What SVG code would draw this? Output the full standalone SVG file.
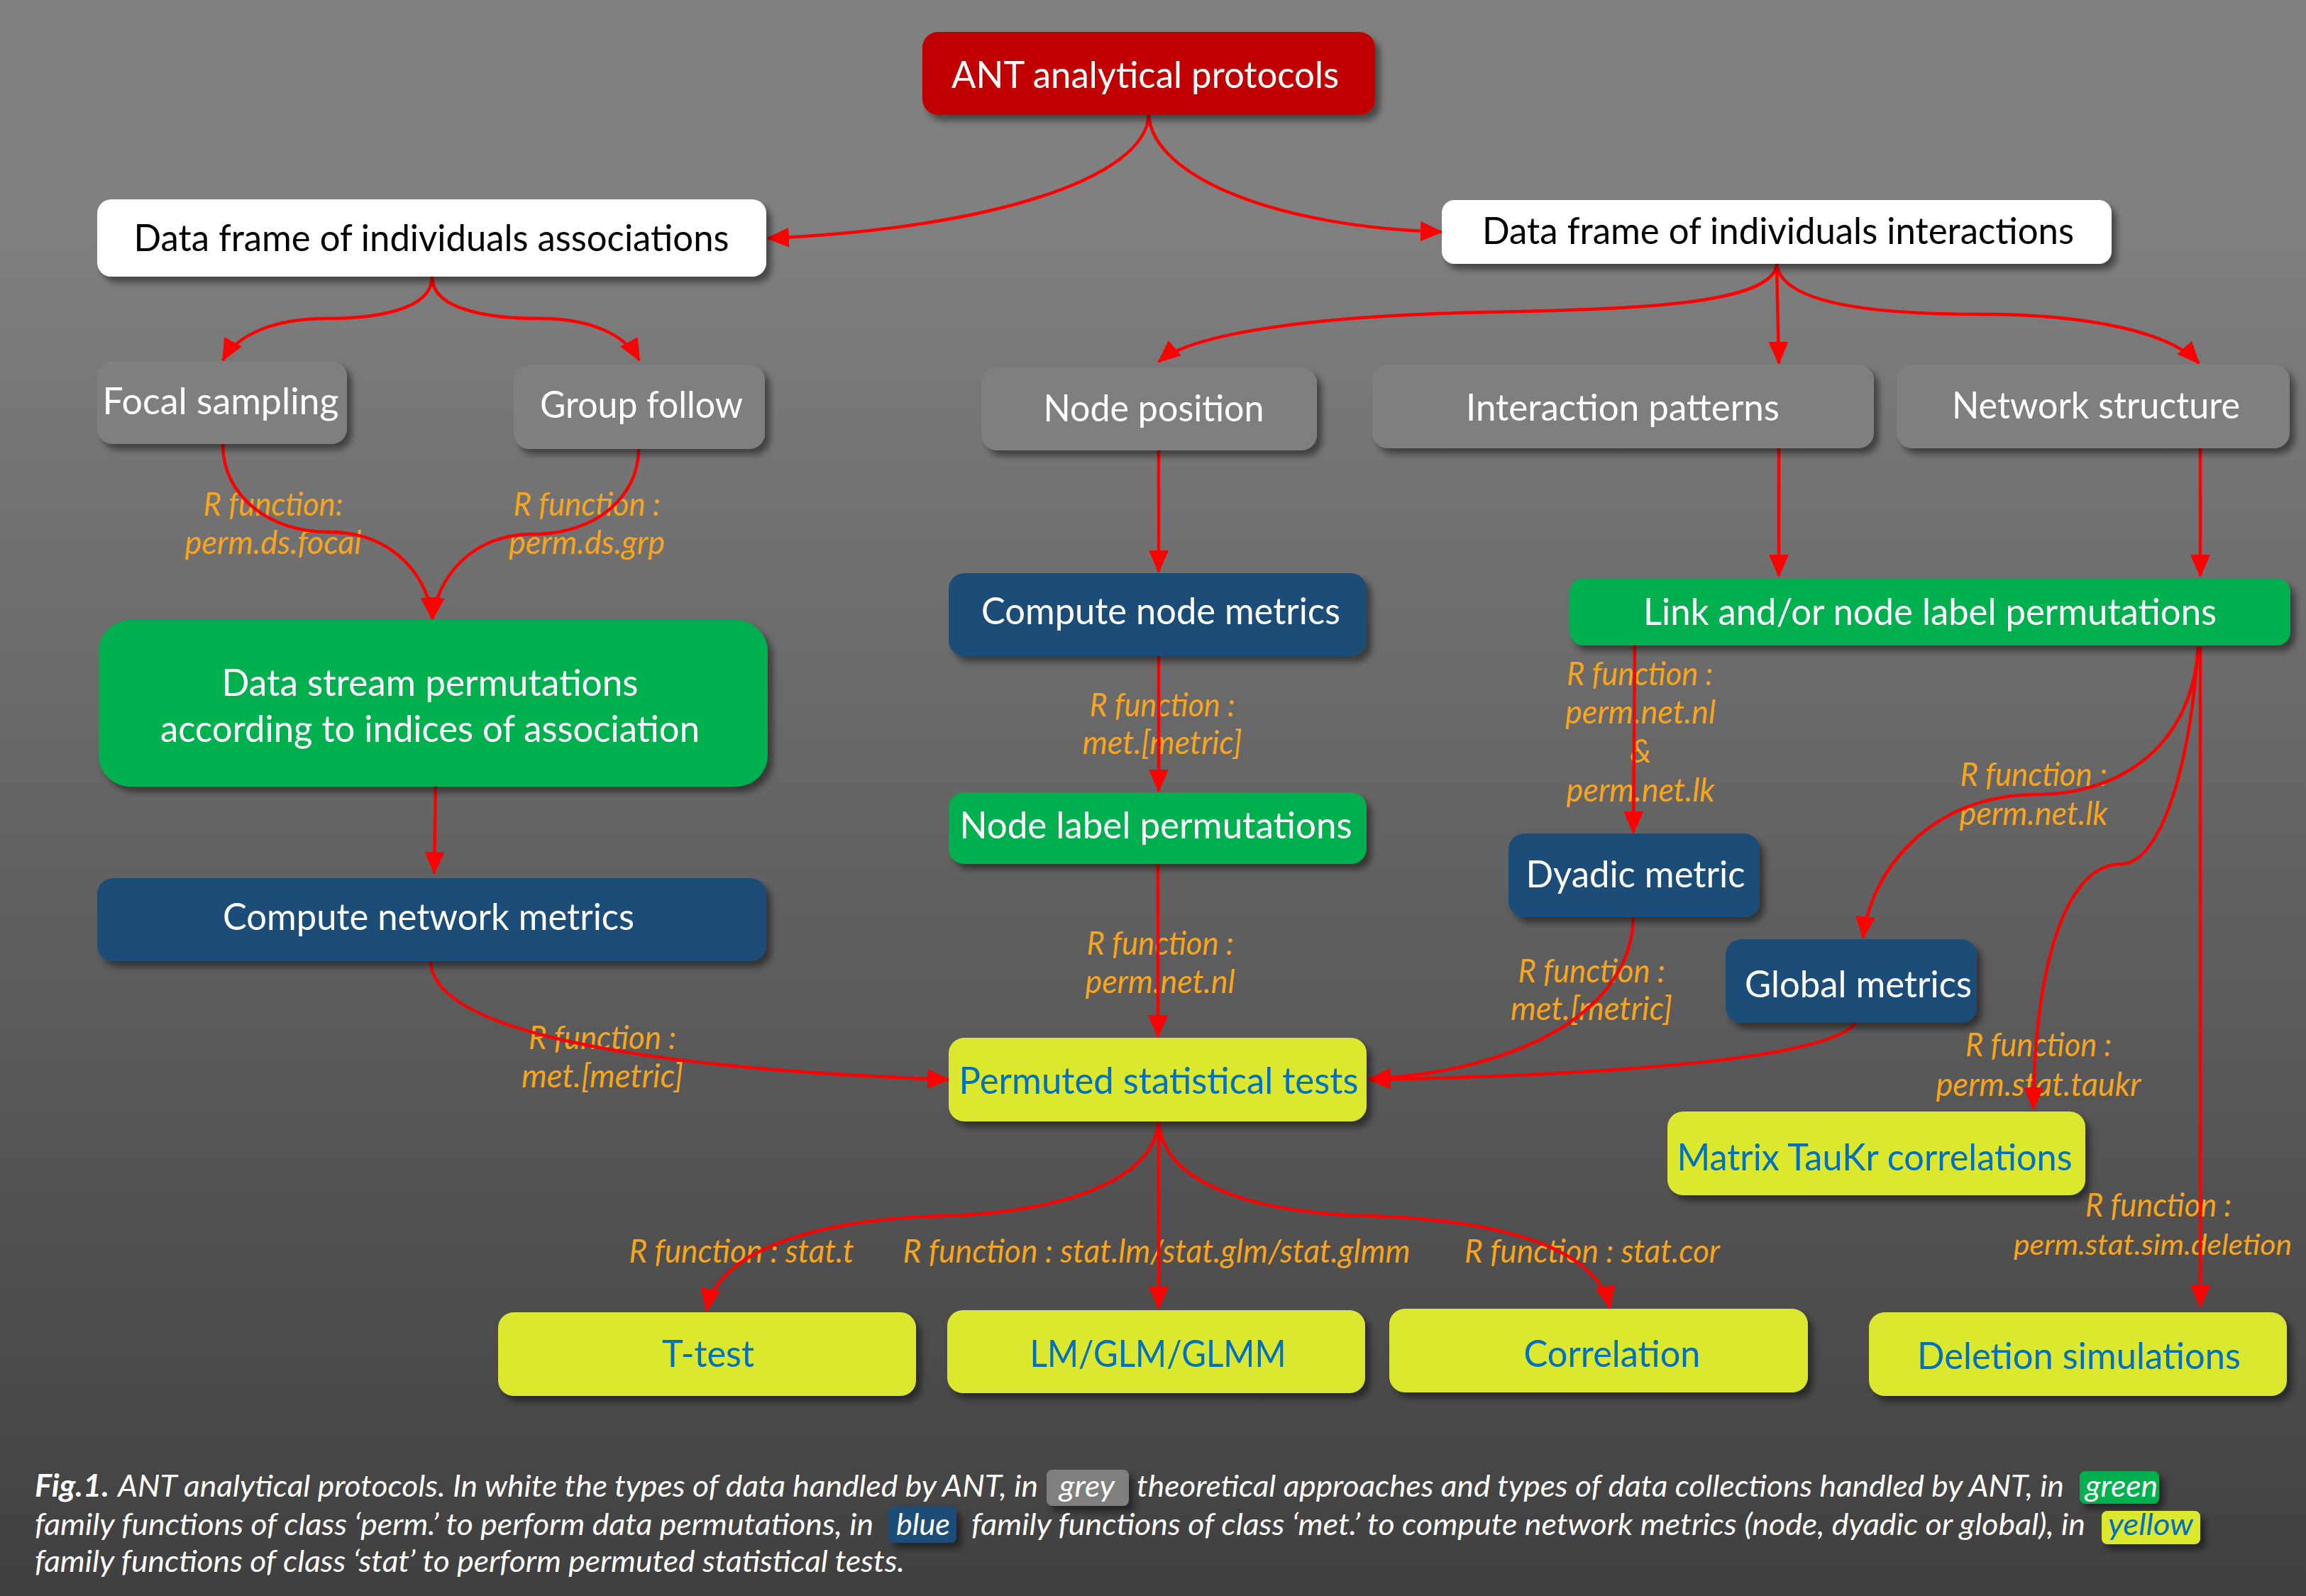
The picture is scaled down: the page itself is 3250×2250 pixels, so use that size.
<svg xmlns="http://www.w3.org/2000/svg" width="3250" height="2250" viewBox="0 0 3250 2250">
<defs>
<linearGradient id="bg" x1="0" y1="0" x2="0" y2="1">
<stop offset="0" stop-color="#808080"/>
<stop offset="0.13" stop-color="#808080"/>
<stop offset="1" stop-color="#404040"/>
</linearGradient>
<filter id="sh" x="-10%" y="-20%" width="130%" height="160%">
<feDropShadow dx="7" dy="8" stdDeviation="5" flood-color="#000" flood-opacity="0.45"/>
</filter>
<marker id="arr" markerUnits="userSpaceOnUse" markerWidth="32" markerHeight="28" refX="30" refY="14" orient="auto" viewBox="0 0 32 28">
<path d="M0,0 L32,14 L0,28 z" fill="#FF0000"/>
</marker>
<style>
text { font-family: Lato, "Open Sans", "Liberation Sans", sans-serif; }
.box { filter: url(#sh); }
.red { fill: #C00000; }
.white { fill: #FFFFFF; }
.grey { fill: #7F7F7F; }
.green { fill: #00B050; }
.blue { fill: #1F4E79; }
.yellow { fill: #DCE82F; }
.t { font-size: 53px; text-anchor: middle; fill: #FFFFFF; }
.tk { fill: #000000; }
.ty { fill: #0070C0; }
.lab { font-size: 46px; font-style: italic; fill: #F7A51E; text-anchor: middle; }
.labs { font-size: 41px; }
.cap { font-size: 43px; font-style: italic; fill: #FFFFFF; }
.conn { fill: none; stroke: #FF0000; stroke-width: 4.5; marker-end: url(#arr); }
</style>
</defs>
<rect x="0" y="0" width="3250" height="2250" fill="url(#bg)"/>

<g id="edge-labels">
<text class="lab" x="385" y="727" textLength="197" lengthAdjust="spacingAndGlyphs">R function:</text>
<text class="lab" x="385" y="781" textLength="249" lengthAdjust="spacingAndGlyphs">perm.ds.focal</text>
<text class="lab" x="827" y="727" textLength="207" lengthAdjust="spacingAndGlyphs">R function :</text>
<text class="lab" x="827" y="781" textLength="220" lengthAdjust="spacingAndGlyphs">perm.ds.grp</text>
<text class="lab" x="849" y="1479" textLength="208" lengthAdjust="spacingAndGlyphs">R function :</text>
<text class="lab" x="849" y="1533" textLength="228" lengthAdjust="spacingAndGlyphs">met.[metric]</text>
<text class="lab" x="1638" y="1010" textLength="205" lengthAdjust="spacingAndGlyphs">R function :</text>
<text class="lab" x="1638" y="1063" textLength="225" lengthAdjust="spacingAndGlyphs">met.[metric]</text>
<text class="lab" x="1635" y="1346" textLength="207" lengthAdjust="spacingAndGlyphs">R function :</text>
<text class="lab" x="1635" y="1400" textLength="211" lengthAdjust="spacingAndGlyphs">perm.net.nl</text>
<text class="lab" x="2311" y="966" textLength="206" lengthAdjust="spacingAndGlyphs">R function :</text>
<text class="lab" x="2312" y="1020" textLength="212" lengthAdjust="spacingAndGlyphs">perm.net.nl</text>
<text class="lab" x="2312" y="1075">&amp;</text>
<text class="lab" x="2312" y="1130" textLength="209" lengthAdjust="spacingAndGlyphs">perm.net.lk</text>
<text class="lab" x="2243" y="1385" textLength="207" lengthAdjust="spacingAndGlyphs">R function :</text>
<text class="lab" x="2243" y="1438" textLength="228" lengthAdjust="spacingAndGlyphs">met.[metric]</text>
<text class="lab" x="2866" y="1108" textLength="207" lengthAdjust="spacingAndGlyphs">R function :</text>
<text class="lab" x="2866" y="1163" textLength="209" lengthAdjust="spacingAndGlyphs">perm.net.lk</text>
<text class="lab" x="2873" y="1489" textLength="206" lengthAdjust="spacingAndGlyphs">R function :</text>
<text class="lab" x="2873" y="1545" textLength="289" lengthAdjust="spacingAndGlyphs">perm.stat.taukr</text>
<text class="lab" x="3042" y="1715" textLength="206" lengthAdjust="spacingAndGlyphs">R function :</text>
<text class="lab labs" x="3034" y="1769" textLength="392" lengthAdjust="spacingAndGlyphs">perm.stat.sim.deletion</text>
<text class="lab" x="1045" y="1780" textLength="317" lengthAdjust="spacingAndGlyphs">R function : stat.t</text>
<text class="lab" x="1630" y="1780" textLength="715" lengthAdjust="spacingAndGlyphs">R function : stat.lm/stat.glm/stat.glmm</text>
<text class="lab" x="2244" y="1780" textLength="360" lengthAdjust="spacingAndGlyphs">R function : stat.cor</text>
</g>

<g id="connectors">
<path class="conn" d="M1619 162 C1615 250 1400 322 1082 336"/>
<path class="conn" d="M1619 162 C1625 250 1800 320 2032 327"/>
<path class="conn" d="M609 390 C609 440 520 449 460 449 C390 449 335 470 314 508"/>
<path class="conn" d="M609 390 C609 440 700 449 760 449 C830 449 880 470 901 508"/>
<path class="conn" d="M314 626 C314 700 380 750 463 750 C560 750 605 820 609 872"/>
<path class="conn" d="M900 633 C900 700 840 753 752 753 C660 753 615 820 610 872"/>
<path class="conn" d="M614 1105 L612 1231"/>
<path class="conn" d="M607 1355 C610 1470 1000 1510 1337 1522"/>
<path class="conn" d="M2504 372 C2500 430 2300 436 2100 440 C1850 445 1680 470 1633 510"/>
<path class="conn" d="M2504 372 L2507 512"/>
<path class="conn" d="M2504 372 C2510 430 2650 443 2790 443 C2950 443 3060 470 3099 512"/>
<path class="conn" d="M1633 635 L1633 806"/>
<path class="conn" d="M2507 632 L2507 812"/>
<path class="conn" d="M3101 632 L3101 812"/>
<path class="conn" d="M1633 925 L1633 1115"/>
<path class="conn" d="M1632 1218 L1632 1461"/>
<path class="conn" d="M2304 910 L2302 1174"/>
<path class="conn" d="M2302 1293 C2300 1420 2150 1510 1930 1521"/>
<path class="conn" d="M2615 1442 C2580 1490 2300 1515 1930 1522"/>
<path class="conn" d="M3098 912 C3090 1050 2990 1120 2870 1120 C2720 1120 2635 1230 2626 1322"/>
<path class="conn" d="M3098 912 C3085 1100 3040 1218 2990 1218 C2900 1218 2866 1400 2866 1563"/>
<path class="conn" d="M3101 912 L3101 1842"/>
<path class="conn" d="M1633 1581 C1625 1680 1450 1712 1330 1714 C1130 1720 1010 1770 996 1847"/>
<path class="conn" d="M1633 1581 L1633 1844"/>
<path class="conn" d="M1633 1581 C1640 1680 1800 1712 1930 1714 C2120 1720 2250 1760 2269 1843"/>
</g>

<g id="node-ant"><rect class="box red" x="1300" y="45" width="638" height="117" rx="22"/><text class="t" x="1614" y="124" textLength="546" lengthAdjust="spacingAndGlyphs">ANT analytical protocols</text></g>
<g id="node-assoc"><rect class="box white" x="137" y="281" width="943" height="109" rx="20"/><text class="t tk" x="608" y="354" textLength="839" lengthAdjust="spacingAndGlyphs">Data frame of individuals associations</text></g>
<g id="node-interact"><rect class="box white" x="2032" y="282" width="944" height="90" rx="18"/><text class="t tk" x="2506" y="344" textLength="834" lengthAdjust="spacingAndGlyphs">Data frame of individuals interactions</text></g>
<g id="node-focal"><rect class="box grey" x="137" y="509" width="352" height="117" rx="22"/><text class="t" x="311" y="584" textLength="333" lengthAdjust="spacingAndGlyphs">Focal sampling</text></g>
<g id="node-group"><rect class="box grey" x="724" y="514" width="354" height="119" rx="22"/><text class="t" x="904" y="589" textLength="286" lengthAdjust="spacingAndGlyphs">Group follow</text></g>
<g id="node-nodepos"><rect class="box grey" x="1383" y="518" width="473" height="117" rx="22"/><text class="t" x="1626" y="594" textLength="311" lengthAdjust="spacingAndGlyphs">Node position</text></g>
<g id="node-intpat"><rect class="box grey" x="1934" y="514" width="707" height="118" rx="22"/><text class="t" x="2287" y="593" textLength="442" lengthAdjust="spacingAndGlyphs">Interaction patterns</text></g>
<g id="node-netstruct"><rect class="box grey" x="2673" y="514" width="554" height="118" rx="22"/><text class="t" x="2954" y="590" textLength="406" lengthAdjust="spacingAndGlyphs">Network structure</text></g>
<g id="node-datastream"><rect class="box green" x="139" y="874" width="943" height="235" rx="45"/><text class="t" x="606" y="981" textLength="587" lengthAdjust="spacingAndGlyphs">Data stream permutations</text><text class="t" x="606" y="1046" textLength="760" lengthAdjust="spacingAndGlyphs">according to indices of association</text></g>
<g id="node-netmetrics"><rect class="box blue" x="137" y="1238" width="943" height="117" rx="22"/><text class="t" x="604" y="1311" textLength="580" lengthAdjust="spacingAndGlyphs">Compute network metrics</text></g>
<g id="node-nodemetrics"><rect class="box blue" x="1337" y="808" width="589" height="117" rx="22"/><text class="t" x="1636" y="880" textLength="506" lengthAdjust="spacingAndGlyphs">Compute node metrics</text></g>
<g id="node-nodelabel"><rect class="box green" x="1337" y="1117" width="589" height="101" rx="22"/><text class="t" x="1629" y="1182" textLength="553" lengthAdjust="spacingAndGlyphs">Node label permutations</text></g>
<g id="node-permuted"><rect class="box yellow" x="1337" y="1463" width="589" height="118" rx="22"/><text class="t ty" x="1633" y="1542" textLength="563" lengthAdjust="spacingAndGlyphs">Permuted statistical tests</text></g>
<g id="node-link"><rect class="box green" x="2212" y="815" width="1016" height="95" rx="20"/><text class="t" x="2720" y="881" textLength="808" lengthAdjust="spacingAndGlyphs">Link and/or node label permutations</text></g>
<g id="node-dyadic"><rect class="box blue" x="2126" y="1175" width="354" height="118" rx="22"/><text class="t" x="2305" y="1251" textLength="309" lengthAdjust="spacingAndGlyphs">Dyadic metric</text></g>
<g id="node-global"><rect class="box blue" x="2432" y="1324" width="354" height="118" rx="22"/><text class="t" x="2619" y="1406" textLength="320" lengthAdjust="spacingAndGlyphs">Global metrics</text></g>
<g id="node-matrix"><rect class="box yellow" x="2350" y="1567" width="589" height="118" rx="22"/><text class="t ty" x="2642" y="1650" textLength="557" lengthAdjust="spacingAndGlyphs">Matrix TauKr correlations</text></g>
<g id="node-ttest"><rect class="box yellow" x="702" y="1850" width="589" height="118" rx="22"/><text class="t ty" x="998" y="1927" textLength="130" lengthAdjust="spacingAndGlyphs">T-test</text></g>
<g id="node-lm"><rect class="box yellow" x="1335" y="1847" width="589" height="117" rx="22"/><text class="t ty" x="1632" y="1927" textLength="361" lengthAdjust="spacingAndGlyphs">LM/GLM/GLMM</text></g>
<g id="node-correlation"><rect class="box yellow" x="1958" y="1845" width="590" height="118" rx="22"/><text class="t ty" x="2272" y="1927" textLength="249" lengthAdjust="spacingAndGlyphs">Correlation</text></g>
<g id="node-deletion"><rect class="box yellow" x="2634" y="1850" width="589" height="118" rx="22"/><text class="t ty" x="2930" y="1930" textLength="456" lengthAdjust="spacingAndGlyphs">Deletion simulations</text></g>

<g id="caption">
<rect class="box grey" x="1475" y="2072" width="116" height="51" rx="8"/>
<rect class="box blue" x="1252" y="2124" width="96" height="51" rx="8"/>
<rect class="box green" x="2931" y="2074" width="112" height="46" rx="8"/>
<rect class="box yellow" x="2962" y="2130" width="139" height="47" rx="8"/>
<text class="cap" x="49" y="2110" font-weight="bold" textLength="105" lengthAdjust="spacingAndGlyphs">Fig.1.</text>
<text class="cap" x="166" y="2110" textLength="1297" lengthAdjust="spacingAndGlyphs">ANT analytical protocols. In white the types of data handled by ANT, in</text>
<text class="cap" x="1493" y="2110" textLength="78" lengthAdjust="spacingAndGlyphs">grey</text>
<text class="cap" x="1602" y="2110" textLength="1307" lengthAdjust="spacingAndGlyphs">theoretical approaches and types of data collections handled by ANT, in</text>
<text class="cap" x="2939" y="2110" textLength="102" lengthAdjust="spacingAndGlyphs">green</text>
<text class="cap" x="49" y="2164" textLength="1182" lengthAdjust="spacingAndGlyphs">family functions of class ‘perm.’ to perform data permutations, in</text>
<text class="cap" x="1263" y="2164" textLength="76" lengthAdjust="spacingAndGlyphs">blue</text>
<text class="cap" x="1369" y="2164" textLength="1570" lengthAdjust="spacingAndGlyphs">family functions of class ‘met.’  to compute network metrics (node, dyadic or global), in</text>
<text class="cap" x="2971" y="2164" textLength="120" lengthAdjust="spacingAndGlyphs" style="fill:#0070C0">yellow</text>
<text class="cap" x="49" y="2216" textLength="1226" lengthAdjust="spacingAndGlyphs">family functions of class ‘stat’ to perform permuted statistical tests.</text>
</g>
</svg>
